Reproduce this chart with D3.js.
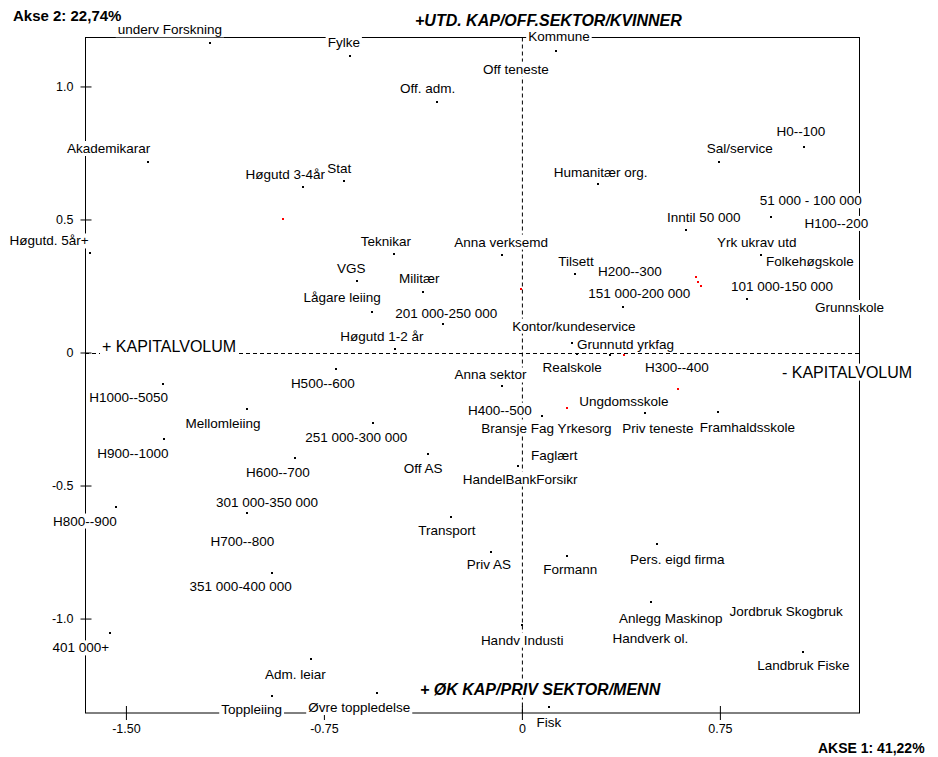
<!DOCTYPE html>
<html>
<head>
<meta charset="utf-8">
<script src="https://cdn.jsdelivr.net/npm/d3@7"></script>
<style>
  body { margin: 0; background: #fff; }
  text { font-family: Arial, "Liberation Sans", sans-serif; }
</style>
</head>
<body>
<div id="chart"></div>
<script>
// Punkta (akse 1 = x, akse 2 = y)
const labels = [
  "underv Forskning", "Fylke", "Kommune", "Off teneste", "Off. adm.", "Akademikarar",
  "Høgutd 3-4år", "Stat", "H0--100", "Sal/service", "Humanitær org.", "51 000 - 100 000",
  "H100--200", "Høgutd. 5år+", "Teknikar", "VGS", "Militær", "Lågare leiing",
  "201 000-250 000", "Høgutd 1-2 år", "H500--600", "Anna sektor", "H1000--5050", "Inntil 50 000",
  "Anna verksemd", "Yrk ukrav utd", "Folkehøgskole", "Tilsett", "H200--300", "151 000-200 000",
  "101 000-150 000", "Grunnskole", "Kontor/kundeservice", "Grunnutd yrkfag", "Realskole", "H300--400",
  "Mellomleiing", "251 000-300 000", "H900--1000", "H600--700", "Off AS", "301 000-350 000",
  "H800--900", "H700--800", "351 000-400 000", "H400--500", "Ungdomsskole", "Bransje Fag Yrkesorg",
  "Priv teneste", "Framhaldsskole", "Faglært", "HandelBankForsikr", "Transport", "Priv AS",
  "Formann", "Pers. eigd firma", "401 000+", "Adm. leiar", "Toppleiing", "Øvre toppledelse",
  "Handv Industi", "Anlegg Maskinop", "Handverk ol.", "Jordbruk Skogbruk", "Landbruk Fiske", "Fisk"
];
const akse1 = [
  -1.182, -0.652, 0.129, -0.023, -0.323, -1.418,
  -0.828, -0.673, 1.068, 0.746, 0.287, 0.943,
  1.191, -1.636, -0.485, -0.624, -0.374, -0.567,
  -0.298, -0.481, -0.705, -0.077, -1.361, 0.621,
  -0.075, 0.905, 1.091, 0.201, 0.409, 0.384,
  0.853, 1.241, 0.197, 0.188, 0.209, 0.333,
  -1.041, -0.563, -1.356, -0.860, -0.355, -1.041,
  -1.538, -1.059, -0.948, -0.083, 0.466, 0.078,
  0.515, 0.744, 0.123, -0.014, -0.269, -0.117,
  0.172, 0.513, -1.561, -0.797, -0.948, -0.548,
  0.001, 0.488, 0.487, 1.001, 1.066, 0.102
];
const akse2 = [
  1.165, 1.116, 1.135, 1.066, 0.943, 0.715,
  0.623, 0.645, 0.774, 0.715, 0.632, 0.511,
  0.486, 0.375, 0.369, 0.268, 0.229, 0.152,
  0.106, 0.013, -0.062, -0.125, -0.118, 0.461,
  0.367, 0.367, 0.344, 0.295, 0.304, 0.172,
  0.201, 0.170, 0.100, 0.035, -0.006, -0.009,
  -0.214, -0.266, -0.326, -0.398, -0.383, -0.602,
  -0.580, -0.708, -0.830, -0.216, -0.228, -0.238,
  -0.283, -0.225, -0.385, -0.426, -0.617, -0.749,
  -0.764, -0.721, -1.053, -1.153, -1.290, -1.281,
  -1.024, -0.939, -1.074, -0.971, -1.125, -1.332
];

// Raude punkt utan namn
const raudAkse1 = [-0.904, 0.658, 0.669, 0.679, -0.005, 0.388, 0.592, 0.172];
const raudAkse2 = [0.501, 0.285, 0.266, 0.251, 0.238, -0.011, -0.138, -0.210];

const xTicks = [-1.5, -0.75, 0, 0.75];
const xTickLabels = ["-1.50", "-0.75", "0", "0.75"];
const yTicks = [1, 0.5, 0, -0.5, -1];
const yTickLabels = ["1.0", "0.5", "0", "-0.5", "-1.0"];

// Plassering av etikettane i pikslar i høve til punktet (midten av teksten)
const labelOffsets = [
  [-40, -13], [-6, -13], [3, -14], [0, 0], [-9, -13], [-39, -14],
  [-18, -12], [-5, -13], [-3, -15], [21, -14], [3, -12], [40, -16],
  [0, 0], [-41, -12], [-8, -13], [-6, -13], [-4, -13], [-30, -15],
  [3, -11], [-13, -13], [-13, 14], [-11, -11], [-34, 13], [18, -13],
  [-1, -13], [-4, -13], [0, 0], [1, -13], [0, 0], [16, -13],
  [35, -13], [0, 0], [0, 0], [54, 1], [-5, 13], [67, 12],
  [-24, 14], [-17, 14], [-31, 14], [-17, 14], [-5, 14], [20, -10],
  [-31, 14], [0, 0], [-31, 13], [0, 0], [-21, -12], [4, 12],
  [0, 0], [29, 15], [0, 0], [2, 13], [-4, 14], [-2, 13],
  [3, 14], [20, 15], [-29, 15], [-16, 15], [-20, 14], [-18, 14],
  [0, 15], [20, 16], [0, 0], [0, 0], [0, 13], [0, 15]
];

const width = 938, height = 757;
const frame = { left: 85, right: 859, top: 37.5, bottom: 713 };

const svg = d3.select('#chart').append('svg')
  .attr('width', width)
  .attr('height', height);

const x = d3.scaleLinear().domain([-1.655, 1.277]).range([frame.left, frame.right]);
const y = d3.scaleLinear().domain([1.184, -1.355]).range([frame.top, frame.bottom]);

// Ramme
svg.append('rect')
  .attr('x', frame.left + 0.5).attr('y', frame.top)
  .attr('width', frame.right - frame.left).attr('height', frame.bottom - frame.top)
  .attr('fill', 'none').attr('stroke', '#000').attr('stroke-width', 1);

// Nulllinjer (stipla)
svg.append('line')
  .attr('x1', x(0) + 0.5).attr('x2', x(0) + 0.5)
  .attr('y1', frame.top).attr('y2', frame.bottom)
  .attr('stroke', '#000').attr('stroke-dasharray', '4,3');
svg.append('line')
  .attr('x1', frame.left).attr('x2', frame.right)
  .attr('y1', Math.round(y(0)) + 0.5).attr('y2', Math.round(y(0)) + 0.5)
  .attr('stroke', '#000').attr('stroke-dasharray', '4,3');

// Akser
const yAxis = svg.append('g')
  .attr('transform', `translate(${frame.left + 6.5},0)`)
  .call(d3.axisLeft(y).tickValues(yTicks).tickSize(11).tickPadding(7)
    .tickFormat((d, i) => yTickLabels[i]));
yAxis.select('.domain').remove();
yAxis.selectAll('text').attr('font-size', 12.5).attr('fill', '#000');

const xAxis = svg.append('g')
  .attr('transform', `translate(0,${frame.bottom - 7})`)
  .call(d3.axisBottom(x).tickValues(xTicks).tickSize(14).tickPadding(4)
    .tickFormat((d, i) => xTickLabels[i]));
xAxis.select('.domain').remove();
xAxis.selectAll('text').attr('font-size', 12.5).attr('fill', '#000');

// Punkt
svg.selectAll('.punkt')
  .data(labels)
  .enter().append('rect')
  .attr('class', 'punkt')
  .attr('x', (d, i) => Math.round(x(akse1[i])) - 1)
  .attr('y', (d, i) => Math.round(y(akse2[i])) - 1)
  .attr('width', 2).attr('height', 2)
  .attr('fill', '#000');

svg.selectAll('.raud')
  .data(raudAkse1)
  .enter().append('rect')
  .attr('class', 'raud')
  .attr('x', (d, i) => Math.round(x(d)) - 1)
  .attr('y', (d, i) => Math.round(y(raudAkse2[i])) - 1)
  .attr('width', 2).attr('height', 2)
  .attr('fill', '#f00');

// Tekst med kvit bakgrunn
function tekst(str, px, py, opts = {}) {
  const g = svg.append('g');
  const t = g.append('text')
    .attr('x', px).attr('y', py)
    .attr('dy', '0.35em')
    .attr('text-anchor', opts.anchor || 'middle')
    .attr('font-size', opts.size || 13.5)
    .attr('font-weight', opts.weight || 'normal')
    .attr('font-style', opts.style || 'normal')
    .attr('fill', '#000')
    .text(str);
  if (opts.bg !== false) {
    const b = t.node().getBBox();
    g.insert('rect', 'text')
      .attr('x', b.x - 2).attr('y', b.y)
      .attr('width', b.width + 4).attr('height', b.height)
      .attr('fill', '#fff');
  }
  return g;
}

labels.forEach((lab, i) => {
  const px = x(akse1[i]) + labelOffsets[i][0];
  const py = y(akse2[i]) + labelOffsets[i][1];
  tekst(lab, px, py);
});

// Aksetitlar
tekst('+ KAPITALVOLUM', 102, 346, { anchor: 'start', size: 16 });
tekst('- KAPITALVOLUM', 782, 372, { anchor: 'start', size: 16 });
tekst('+UTD. KAP/OFF.SEKTOR/KVINNER', 415, 20, { anchor: 'start', size: 16, weight: 'bold', style: 'italic' });
tekst('+ ØK KAP/PRIV SEKTOR/MENN', 420, 689, { anchor: 'start', size: 16, weight: 'bold', style: 'italic' });
tekst('Akse 2: 22,74%', 13, 16, { anchor: 'start', size: 15, weight: 'bold', bg: false });
tekst('AKSE 1: 41,22%', 818, 748, { anchor: 'start', size: 14, weight: 'bold', bg: false });
</script>
</body>
</html>
